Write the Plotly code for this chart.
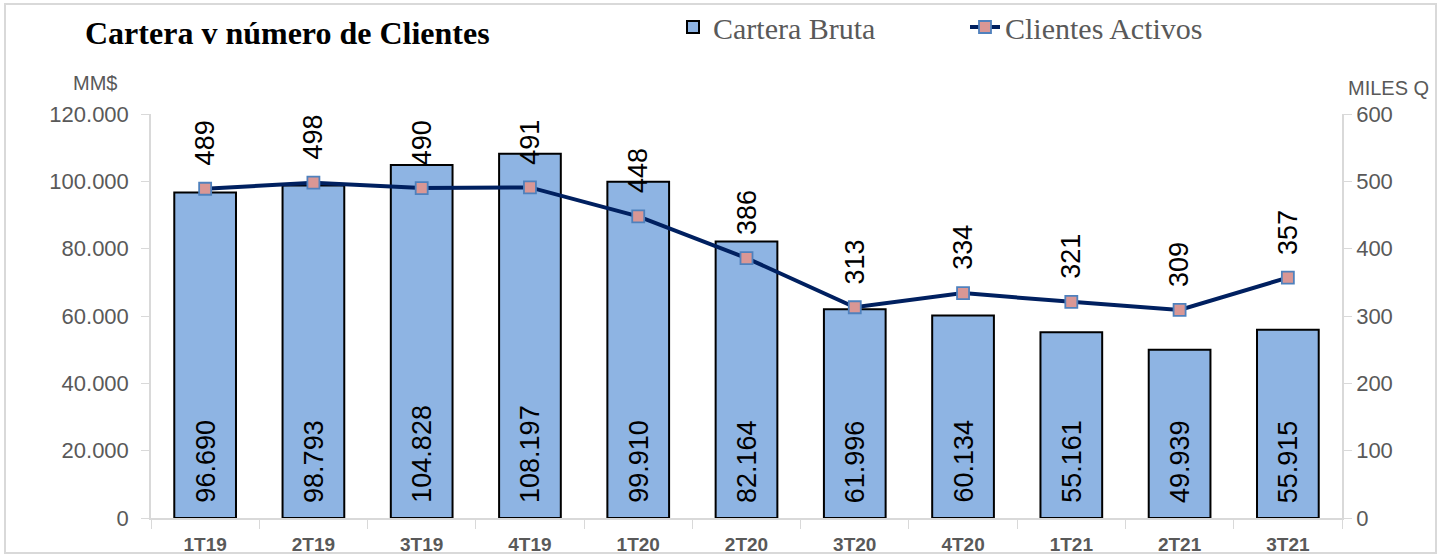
import plotly.graph_objects as go

categorias = ["1T19", "2T19", "3T19", "4T19", "1T20", "2T20", "3T20", "4T20", "1T21", "2T21", "3T21"]
cartera_bruta = [96690, 98793, 104828, 108197, 99910, 82164, 61996, 60134, 55161, 49939, 55915]
clientes_activos = [489, 498, 490, 491, 448, 386, 313, 334, 321, 309, 357]

W, H = 1449, 556
ML, MR, MT, MB = 151, 107, 114, 38
PW, PH = W - ML - MR, H - MT - MB

GRAY = "#595959"
AXIS = "#D9D9D9"

fig = go.Figure()

fig.add_trace(go.Bar(
    x=categorias, y=cartera_bruta, name="Cartera Bruta",
    marker=dict(color="#8EB4E3", line=dict(color="#000000", width=2)),
    width=0.57, yaxis="y",
))

fig.add_trace(go.Scatter(
    x=categorias, y=clientes_activos, name="Clientes Activos",
    mode="lines+markers",
    line=dict(color="#002060", width=4),
    marker=dict(symbol="square", size=12, color="#D99795",
                line=dict(color="#4F81BD", width=1.8)),
    yaxis="y2",
))

annotations = []
for c, v in zip(categorias, cartera_bruta):
    s = f"{v:,}".replace(",", ".")
    annotations.append(dict(
        x=c, y=0, xref="x", yref="y", text=s, textangle=-90,
        showarrow=False, yanchor="bottom", xanchor="center", yshift=13,
        font=dict(family="Liberation Sans", size=27, color="#000000"),
    ))
for c, v in zip(categorias, clientes_activos):
    annotations.append(dict(
        x=c, y=v, xref="x", yref="y2", text=str(v), textangle=-90,
        showarrow=False, yanchor="bottom", xanchor="center", yshift=21,
        font=dict(family="Liberation Sans", size=27, color="#000000"),
    ))

annotations.append(dict(
    text="MM$", showarrow=False, xref="x domain", yref="y domain",
    x=(95 - ML) / PW, y=(H - MB - 83) / PH,
    xanchor="center", yanchor="middle",
    font=dict(family="Liberation Sans", size=20, color=GRAY),
))
annotations.append(dict(
    text="MILES Q", showarrow=False, xref="x domain", yref="y domain",
    x=(1388 - ML) / PW, y=(H - MB - 88) / PH,
    xanchor="center", yanchor="middle",
    font=dict(family="Liberation Sans", size=20, color=GRAY),
))

fig.update_layout(
    width=W, height=H,
    margin=dict(l=ML, r=MR, t=MT, b=MB, autoexpand=False),
    paper_bgcolor="white", plot_bgcolor="white",
    separators=",.",
    title=dict(
        text="<b>Cartera v número de Clientes</b>",
        x=85 / W, xanchor="left", xref="container",
        y=1 - 33 / H, yanchor="middle", yref="container",
        font=dict(family="Liberation Serif", size=32, color="#000000"),
    ),
    legend=dict(
        orientation="h", x=(673 - ML) / PW, xanchor="left",
        y=1 + (MT - 27) / PH, yanchor="middle",
        font=dict(family="Liberation Serif", size=30, color=GRAY),
        bgcolor="rgba(0,0,0,0)", entrywidth=247, entrywidthmode="pixels",
    ),
    xaxis=dict(
        type="category", range=[-0.5, len(categorias) - 0.5],
        showline=True, linecolor=AXIS, linewidth=1.5,
        ticks="outside", tickson="boundaries", ticklen=9, tickcolor=AXIS,
        ticklabelstandoff=8,
        tickfont=dict(family="Liberation Sans", size=19, color=GRAY, weight="bold"),
        showgrid=False, zeroline=False,
    ),
    yaxis=dict(
        range=[0, 120000], dtick=20000, tickformat=",d",
        showline=True, linecolor=AXIS, linewidth=1.5,
        ticks="outside", ticklen=8, tickcolor=AXIS, ticklabelstandoff=8,
        tickfont=dict(family="Liberation Sans", size=22, color=GRAY),
        showgrid=False, zeroline=False,
    ),
    yaxis2=dict(
        range=[0, 600], dtick=100, overlaying="y", side="right",
        showline=True, linecolor=AXIS, linewidth=1.5,
        ticks="outside", ticklen=8, tickcolor=AXIS,
        tickfont=dict(family="Liberation Sans", size=22, color=GRAY),
        showgrid=False, zeroline=False,
    ),
    annotations=annotations,
    shapes=[dict(
        type="rect", xref="paper", yref="paper",
        x0=(5 - ML) / PW, x1=(1436 - ML) / PW,
        y0=-(MB - 3) / PH, y1=1 + (MT - 4) / PH,
        line=dict(color=AXIS, width=2), fillcolor="rgba(0,0,0,0)", layer="below",
    )],
)

fig.write_html("out.html", config={"displayModeBar": False},
               post_script="document.body.style.margin='0';")
